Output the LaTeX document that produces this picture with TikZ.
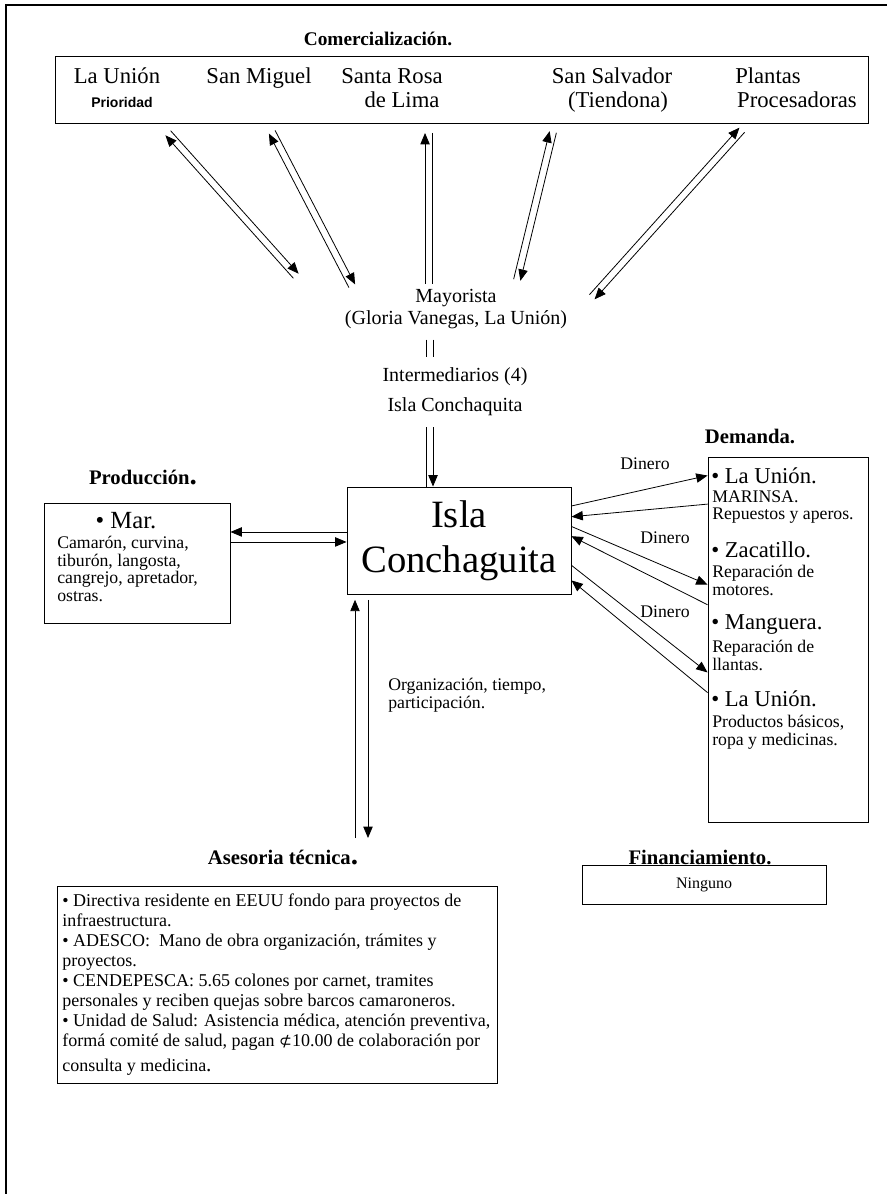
\documentclass[tikz,border=0pt]{standalone}
\usepackage{fontspec}
\setmainfont{Liberation Serif}
\newfontfamily\arialfont{Liberation Sans}
\newfontfamily\symbfont{DejaVu Sans}
\usetikzlibrary{arrows.meta, positioning, fit, calc}
\newcommand{\smalltxt}{\fontsize{13.3pt}{13.2pt}\selectfont}
\newcommand{\toptxt}{\fontsize{17pt}{18pt}\selectfont}
\newcommand{\midtxt}{\fontsize{15pt}{16.5pt}\selectfont}
\newcommand{\bullettxt}{\fontsize{17pt}{19pt}\selectfont}
\newcommand{\titletxt}{\fontsize{15.5pt}{17pt}\selectfont\bfseries}
\newcommand{\bigdot}{{\fontsize{22pt}{22pt}\selectfont.}}
\newcommand{\colonsign}{{\symbfont\fontsize{11.5pt}{12pt}\selectfont ⊄}}
\newcommand{\twoway}[2]{%
  \draw[flow] ($(#2)!2.6pt!90:(#1)$) -- ($(#1)!2.6pt!-90:(#2)$);
  \draw[flow] ($(#1)!2.6pt!90:(#2)$) -- ($(#2)!2.6pt!-90:(#1)$);
}
\tikzset{
  frame/.style={draw, line width=0.7pt, inner sep=0pt},
  txt/.style={inner sep=0pt, font=\smalltxt},
  toplbl/.style={inner sep=0pt, font=\toptxt, anchor=base},
  plain/.style={line width=0.6pt},
  flow/.style={line width=0.6pt, -{Triangle[length=8.5pt,width=7pt]}},
}

\begin{document}
\begin{tikzpicture}[x=0.75pt, y=-0.75pt]
\useasboundingbox (0,0) rectangle (887,1194);
\draw[line width=1.2pt] (6,1194) -- (6,5) -- (887,5);

\node[inner sep=0pt, font=\fontsize{14.5pt}{16pt}\selectfont\bfseries] (comt) at (378,39) {Comercialización.};
\node[frame, fit={(55,56) (868,123)}] (com) {};
\node[toplbl] (lu) at (117,84) {La Unión};
\node[inner sep=0pt, anchor=base, font=\arialfont\bfseries\fontsize{10.5pt}{12pt}\selectfont] (prio) at (122,108) {Prioridad};
\node[toplbl] (sm) at (259,84) {San Miguel};
\node[toplbl] (sr) at (392,84) {Santa Rosa};
\node[toplbl] (srl) at (402,108) {de Lima};
\node[toplbl] (ss) at (612,84) {San Salvador};
\node[toplbl] (sst) at (618,108) {(Tiendona)};
\node[toplbl] (pl) at (768,84) {Plantas};
\node[toplbl] (plp) at (797,108) {Procesadoras};

\coordinate (p1a) at (168,133); \coordinate (p1b) at (296,276);
\coordinate (p2a) at (272,132); \coordinate (p2b) at (352,286);
\coordinate (p3a) at (428.5,133); \coordinate (p3b) at (428.5,284);
\coordinate (p4a) at (553,132); \coordinate (p4b) at (517,280);
\coordinate (p5a) at (742,130); \coordinate (p5b) at (592,297);
\twoway{p1a}{p1b}
\twoway{p2a}{p2b}
\draw[flow] ([xshift=-2.6pt]p3b) -- ([xshift=-2.6pt]p3a);
\draw[plain] ([xshift=2.6pt]p3a) -- ([xshift=2.6pt]p3b);
\twoway{p4a}{p4b}
\twoway{p5a}{p5b}

\node[inner sep=0pt, font=\midtxt, align=center] (may) at (456,309) {Mayorista\\(Gloria Vanegas, La Unión)};
\node[inner sep=0pt, font=\midtxt] (int) at (455,377) {Intermediarios (4)};
\node[inner sep=0pt, font=\midtxt] (isc) at (455,407) {Isla Conchaquita};
\coordinate (xl) at (426,0); \coordinate (xr) at (433,0);
\draw[plain, shorten <=8pt, shorten >=8pt] (may.south -| xl) -- (int.north -| xl);
\draw[plain, shorten <=8pt, shorten >=8pt] (may.south -| xr) -- (int.north -| xr);

\node[frame, minimum width=168pt, minimum height=80.25pt, align=center, font=\fontsize{29pt}{34pt}\selectfont] (cen) at (459,540.5) {\raisebox{-3pt}{Isla}\\\raisebox{-3pt}{Conchaguita}};
\draw[plain, shorten <=8pt] (isc.south -| xl) -- (cen.north -| xl);
\draw[flow, shorten <=8pt] (isc.south -| xr) -- (cen.north -| xr);

\node[inner sep=0pt, font=\titletxt] (prodt) at (143,478) {Producción\bigdot};
\node[frame, fit={(44,503) (230,623)}] (prod) {};
\node[inner sep=0pt, font=\fontsize{18.5pt}{20pt}\selectfont] (mar) at (126,521) {• Mar.};
\node[txt, align=left, anchor=north west] (mart) at (57,536) {Camarón, curvina,\\tiburón, langosta,\\cangrejo, apretador,\\ostras.};
\coordinate (pu) at ([yshift=6.4pt]cen.west);
\coordinate (pd) at ([yshift=-1.1pt]cen.west);
\draw[flow] (pu) -- (pu -| prod.east);
\draw[flow] (pd -| prod.east) -- (pd);

\node[inner sep=0pt, font=\titletxt] (demt) at (750,436) {Demanda.};
\node[frame, fit={(708,457) (868,822)}] (dem) {};
\node[inner sep=0pt, font=\bullettxt, anchor=west] (d1) at (711,476) {• La Unión.};
\node[txt, align=left, anchor=north west] (d1t) at (712,490) {MARINSA.\\Repuestos y aperos.};
\node[inner sep=0pt, font=\bullettxt, anchor=west] (d2) at (711,550) {• Zacatillo.};
\node[txt, align=left, anchor=north west] (d2t) at (712,565) {Reparación de\\motores.};
\node[inner sep=0pt, font=\bullettxt, anchor=west] (d3) at (711,625) {• Manguera.};
\node[txt, align=left, anchor=north west] (d3t) at (712,640) {Reparación de\\llantas.};
\node[inner sep=0pt, font=\bullettxt, anchor=west] (d4) at (711,699) {• La Unión.};
\node[txt, align=left, anchor=north west] (d4t) at (712,715) {Productos básicos,\\ropa y medicinas.};

\draw[flow] ($(cen.north east)!.18!(cen.south east)$) -- ($(dem.north west)!.052!(dem.south west)$);
\draw[flow] ($(dem.north west)!.13!(dem.south west)$) -- ($(cen.north east)!.28!(cen.south east)$);
\draw[flow] ($(cen.north east)!.37!(cen.south east)$) -- ($(dem.north west)!.35!(dem.south west)$);
\draw[flow] ($(dem.north west)!.405!(dem.south west)$) -- ($(cen.north east)!.46!(cen.south east)$);
\draw[flow] ($(cen.north east)!.73!(cen.south east)$) -- ($(dem.north west)!.59!(dem.south west)$);
\draw[flow] ($(dem.north west)!.645!(dem.south west)$) -- ($(cen.north east)!.87!(cen.south east)$);
\node[txt] (din1) at (645,464) {Dinero};
\node[txt] (din2) at (665,538) {Dinero};
\node[txt] (din3) at (665,612) {Dinero};

\node[inner sep=0pt, font=\titletxt] (asest) at (283,858) {Asesoria técnica\bigdot};
\coordinate (tl) at (355,838); \coordinate (tr) at (368,838);
\draw[flow, shorten >=4pt] (tl) -- (cen.south -| tl);
\draw[flow, shorten <=4pt] (cen.south -| tr) -- (tr);
\node[txt, align=left, anchor=west] (org) at (388,695) {Organización, tiempo,\\participación.};

\node[inner sep=0pt, align=left, anchor=north west, font=\fontsize{13.5pt}{14.9pt}\selectfont] (asestx) at (62,894) {• Directiva residente en EEUU fondo para proyectos de\\infraestructura.\\• ADESCO:\ \ Mano de obra organización, trámites y\\proyectos.\\• CENDEPESCA: 5.65 colones por carnet, tramites\\personales y reciben quejas sobre barcos camaroneros.\\• Unidad de Salud: Asistencia médica, atención preventiva,\\formá comité de salud, pagan \colonsign10.00 de colaboración por\\[4pt]consulta y medicina{\fontsize{16pt}{16pt}\selectfont.}};
\node[frame, fit={(57,886) (497,886) ($(asestx.south)+(0,8)$)}] (ases) {};

\node[inner sep=0pt, font=\titletxt] (fint) at (700,857) {Financiamiento.};
\node[frame, fit={(582,865) (826,904)}] (fin) {};
\node[inner sep=0pt, font=\fontsize{12pt}{14pt}\selectfont] (ning) at (704,885) {Ninguno};
\end{tikzpicture}
\end{document}
